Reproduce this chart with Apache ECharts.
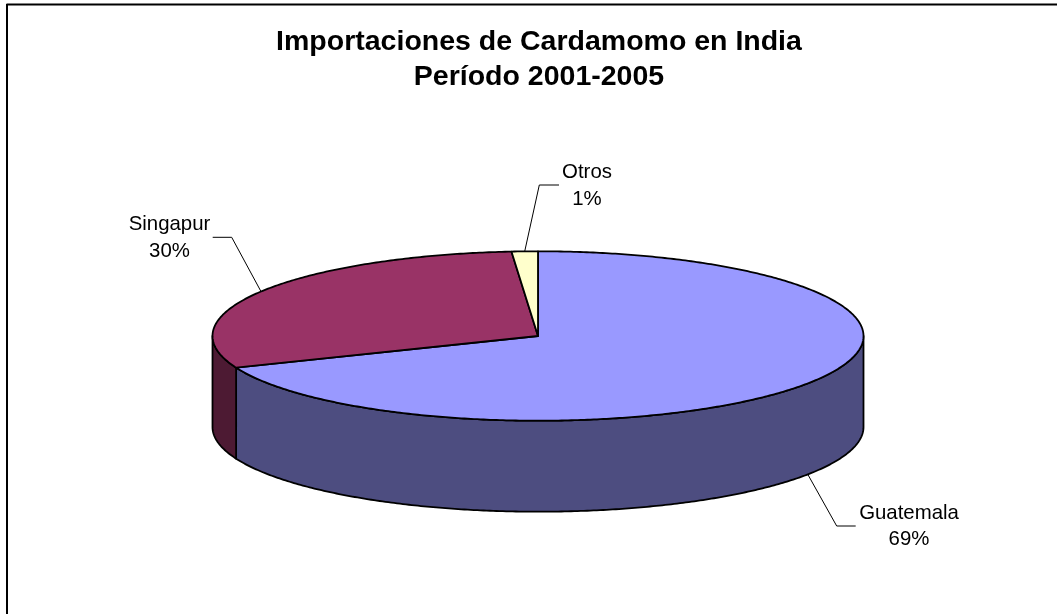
<!DOCTYPE html>
<html>
<head>
<meta charset="utf-8">
<style>html,body{margin:0;padding:0;background:#fff}#c{width:1057px;height:614px}</style>
<script src="https://cdn.jsdelivr.net/npm/echarts@6/dist/echarts.min.js"></script>
</head>
<body>
<div id="c"></div>
<script>
var categories = ['Guatemala', 'Singapur', 'Otros'];
var shares = [68.9, 29.8, 1.3];
var topColors = ['#9999FF', '#993366', '#FFFFCC'];
var wallColors = ['#4D4D80', '#4D1A33', '#80801A'];
var titleLines = ['Importaciones de Cardamomo en India', 'Período 2001-2005'];

var FONT = '"Liberation Sans", Arial, sans-serif';
var cx = 538, cy = 336, rx = 325.5, ry = 84.7, depth = 91;
// label layout: text centre, elbow of the leader line, end of the leader line
var labelLayout = [
  {x: 909, y: 526.5, elbow: [836.7, 526], end: [855.7, 526], wall: true},
  {x: 169.5, y: 238, elbow: [231.7, 237.3], end: [212.7, 237.3], wall: false},
  {x: 587, y: 186, elbow: [539.3, 185], end: [559, 185], wall: false}
];

var total = shares.reduce(function (a, b) { return a + b; }, 0);
var starts = [];
shares.reduce(function (acc, v, i) { starts[i] = acc; return acc + v; }, 0);
var sliceData = shares.map(function (v, i) { return [v, starts[i], i]; });

function rad(share) { return share / total * Math.PI * 2; }
function rim(t, dy) {
  return [cx + rx * Math.sin(t), cy - ry * Math.cos(t) + (dy || 0)];
}
function arc(a, b, dy) {
  var pts = [], n = Math.max(2, Math.ceil(Math.abs(b - a) / 0.01));
  for (var i = 0; i <= n; i++) pts.push(rim(a + (b - a) * i / n, dy));
  return pts;
}
var lineStyle = {stroke: '#000', lineWidth: 1.8, lineJoin: 'round'};

function renderWall(params, api) {
  var i = api.value(2), a = rad(api.value(1)), b = a + rad(api.value(0));
  var from = Math.max(a, Math.PI / 2), to = Math.min(b, Math.PI * 1.5);
  if (to <= from) return {type: 'group', children: []};
  var pts = arc(from, to, 0).concat(arc(to, from, depth));
  return {type: 'polygon', shape: {points: pts},
    style: Object.assign({fill: wallColors[i]}, lineStyle)};
}
function renderTop(params, api) {
  var i = api.value(2), a = rad(api.value(1)), b = a + rad(api.value(0));
  var pts = [[cx, cy]].concat(arc(a, b, 0));
  return {type: 'polygon', shape: {points: pts},
    style: Object.assign({fill: topColors[i]}, lineStyle)};
}
function renderLabel(params, api) {
  var i = api.value(2), a = rad(api.value(1)), b = a + rad(api.value(0));
  var L = labelLayout[i];
  var anchor = rim((a + b) / 2, L.wall ? depth : 0);
  return {type: 'group', children: [
    {type: 'polyline', shape: {points: [L.end, L.elbow, anchor]},
      style: {stroke: '#000', lineWidth: 1, fill: null}},
    {type: 'text', x: L.x, y: L.y, style: {
      text: categories[i] + '\n' + Math.round(api.value(0) / total * 100) + '%',
      fill: '#000', font: '20.4px ' + FONT, lineHeight: 26.5,
      align: 'center', verticalAlign: 'middle'}}
  ]};
}
var chart = echarts.init(document.getElementById('c'), null, {renderer: 'canvas'});
chart.setOption({
  animation: false,
  backgroundColor: '#fff',
  title: {
    text: titleLines.join('\n'), left: 534, top: 20, textAlign: 'center',
    textStyle: {fontFamily: FONT, fontWeight: 'bold', fontSize: 28.5, lineHeight: 34.5, color: '#000'}
  },
  graphic: [
    {type: 'line', shape: {x1: 6.5, y1: 4.5, x2: 1057, y2: 4.5}, style: {stroke: '#000', lineWidth: 2}},
    {type: 'line', shape: {x1: 7, y1: 4, x2: 7, y2: 614}, style: {stroke: '#000', lineWidth: 2}}
  ],
  series: [
    {type: 'custom', coordinateSystem: 'none', silent: true, z: 1, renderItem: renderWall, data: sliceData},
    {type: 'custom', coordinateSystem: 'none', silent: true, z: 2, renderItem: renderTop, data: sliceData},
    {type: 'custom', coordinateSystem: 'none', silent: true, z: 3, renderItem: renderLabel, data: sliceData}
  ]
});
</script>
</body>
</html>
